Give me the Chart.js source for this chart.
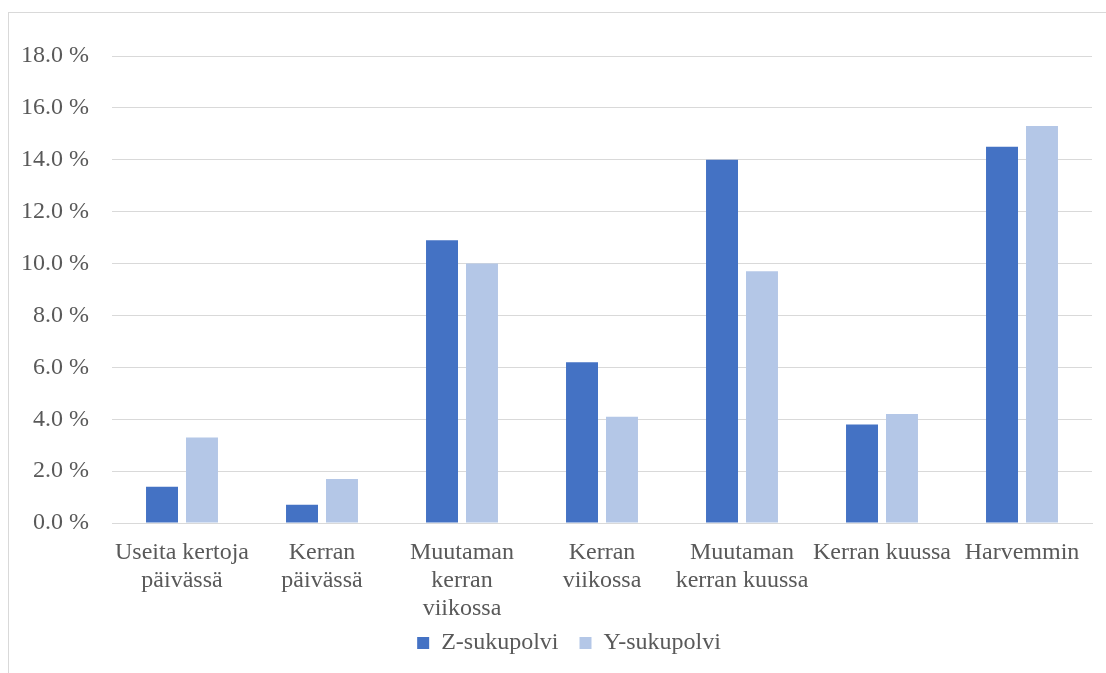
<!DOCTYPE html>
<html>
<head>
<meta charset="utf-8">
<script src="https://cdn.jsdelivr.net/npm/chart.js@4"></script>
<style>
  html, body { margin: 0; padding: 0; background: #fff; overflow: hidden; }
  #frame { position: absolute; left: 8px; top: 12px; width: 1300px; height: 900px; border: 1px solid #d9d9d9; }
  #wrap { position: absolute; left: 0; top: 0; width: 1106px; height: 673px; }
</style>
</head>
<body>
<div id="frame"></div>
<div id="wrap"><canvas id="chart"></canvas></div>
<script>
// categories (multi-line labels like the original)
const categories = [
  ["Useita kertoja", "päivässä"],
  ["Kerran", "päivässä"],
  ["Muutaman", "kerran", "viikossa"],
  ["Kerran", "viikossa"],
  ["Muutaman", "kerran kuussa"],
  "Kerran kuussa",
  "Harvemmin"
];
const seriesNames = ["Z-sukupolvi", "Y-sukupolvi"];
const zValues = [1.4, 0.7, 10.9, 6.2, 14.0, 3.8, 14.5];
const yValues = [3.3, 1.7, 10.0, 4.1, 9.7, 4.2, 15.3];
const yTicks = [0, 2, 4, 6, 8, 10, 12, 14, 16, 18];

const textColor = '#595959';
const gridColor = '#d9d9d9';
const font = { family: '"Liberation Serif", "Times New Roman", serif', size: 24, lineHeight: 1.17 };

// nudge the legend a bit right and up, like in the original layout
const legendShift = {
  id: 'legendShift',
  afterLayout(chart) {
    if (chart.legend) {
      chart.legend.left = 46;
      chart.legend.top -= 8;
    }
  }
};

const ctx = document.getElementById("chart").getContext("2d");
new Chart(ctx, {
  type: 'bar',
  data: {
    labels: categories,
    datasets: [
      { label: seriesNames[0], data: zValues, backgroundColor: '#4472c4', borderWidth: 0 },
      { label: seriesNames[1], data: yValues, backgroundColor: '#b4c7e7', borderWidth: 0 }
    ]
  },
  options: {
    responsive: true,
    maintainAspectRatio: false,
    animation: false,
    categoryPercentage: 0.571,
    barPercentage: 0.8,
    layout: { padding: { left: 0, right: 14, top: 56, bottom: 0 } },
    scales: {
      x: {
        grid: { display: false },
        border: { display: true, color: gridColor, width: 1 },
        ticks: {
          color: textColor,
          font: font,
          autoSkip: false,
          maxRotation: 0,
          minRotation: 0,
          padding: 8
        },
        afterFit: function(scale) { scale.height = 95; }
      },
      y: {
        min: 0,
        max: yTicks[yTicks.length - 1],
        afterBuildTicks: function(scale) {
          scale.ticks = yTicks.map(v => ({ value: v }));
        },
        grid: { color: gridColor, lineWidth: 1, drawTicks: false },
        border: { display: false },
        ticks: {
          color: textColor,
          font: font,
          padding: 23,
          callback: function(value) {
            return value.toFixed(1) + ' %';
          }
        },
        afterFit: function(scale) { scale.width = 112; }
      }
    },
    plugins: {
      legend: {
        position: 'bottom',
        labels: {
          color: textColor,
          font: font,
          boxWidth: 12,
          boxHeight: 12,
          padding: 21
        }
      },
      tooltip: { enabled: false }
    }
  },
  plugins: [legendShift]
});
</script>
</body>
</html>
